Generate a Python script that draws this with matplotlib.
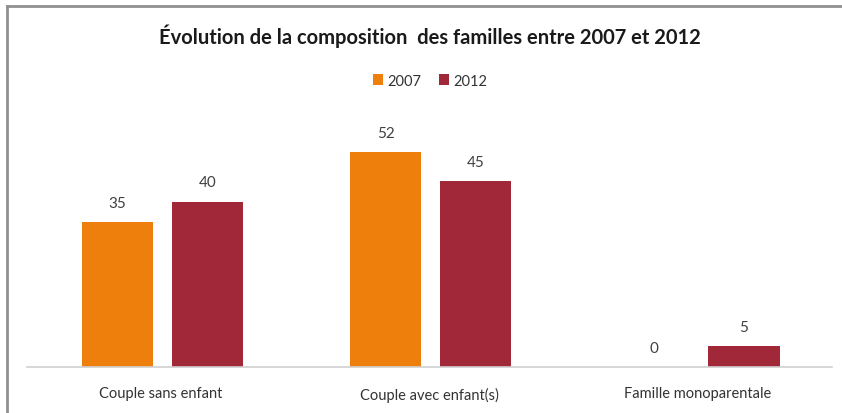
import numpy as np
import matplotlib.pyplot as plt
from matplotlib.lines import Line2D

categories = ["Couple sans enfant", "Couple avec enfant(s)", "Famille monoparentale"]
years = ["2007", "2012"]
values_2007 = [35, 52, 0]
values_2012 = [40, 45, 5]
colors = ["#EE7F0C", "#A02838"]

plt.rcParams['font.family'] = ['Lato', 'DejaVu Sans']

fig = plt.figure(figsize=(8.42, 4.14), dpi=100)
ax = fig.add_axes([0.032, 0.111, 0.956, 0.609])

x = np.arange(len(categories))
w = 0.265
off = 0.1675
for vals, c, lab, dx in [(values_2007, colors[0], years[0], -off),
                         (values_2012, colors[1], years[1], off)]:
    bars = ax.bar(x + dx + 0.005, vals, width=w, color=c, label=lab)
    for b, v in zip(bars, vals):
        ax.annotate(str(v), (b.get_x() + b.get_width() / 2, v),
                    xytext=(0, 9), textcoords='offset points',
                    ha='center', va='bottom', fontsize=11, color='#404040')

ax.set_xlim(-0.5, 2.5)
ax.set_ylim(0, 61)
ax.set_yticks([])
ax.set_xticks(x)
ax.set_xticklabels(categories, fontsize=10.5, color='#333333')
ax.tick_params(axis='x', length=0, pad=14)
for s in ['top', 'right', 'left']:
    ax.spines[s].set_visible(False)
ax.spines['bottom'].set_color('#d0d0d0')
ax.spines['bottom'].set_linewidth(1.2)

fig.text(0.511, 0.912, "Évolution de la composition  des familles entre 2007 et 2012",
         ha='center', va='center', fontsize=14.5, fontweight='bold', color='#1a1a1a')
fig.legend(loc='center', bbox_to_anchor=(0.511, 0.803), ncol=2, frameon=False,
           fontsize=10.5, handlelength=0.7, handleheight=0.7, handletextpad=0.3,
           columnspacing=1.2, labelcolor='#333333')

# chart frame (left and top edges)
fig.add_artist(Line2D([7 / 842, 7 / 842], [0, 1 - 7 / 414], color='#909090', lw=2))
fig.add_artist(Line2D([7 / 842, 1], [1 - 7 / 414, 1 - 7 / 414], color='#909090', lw=2))

plt.savefig("out.png", dpi=100)
